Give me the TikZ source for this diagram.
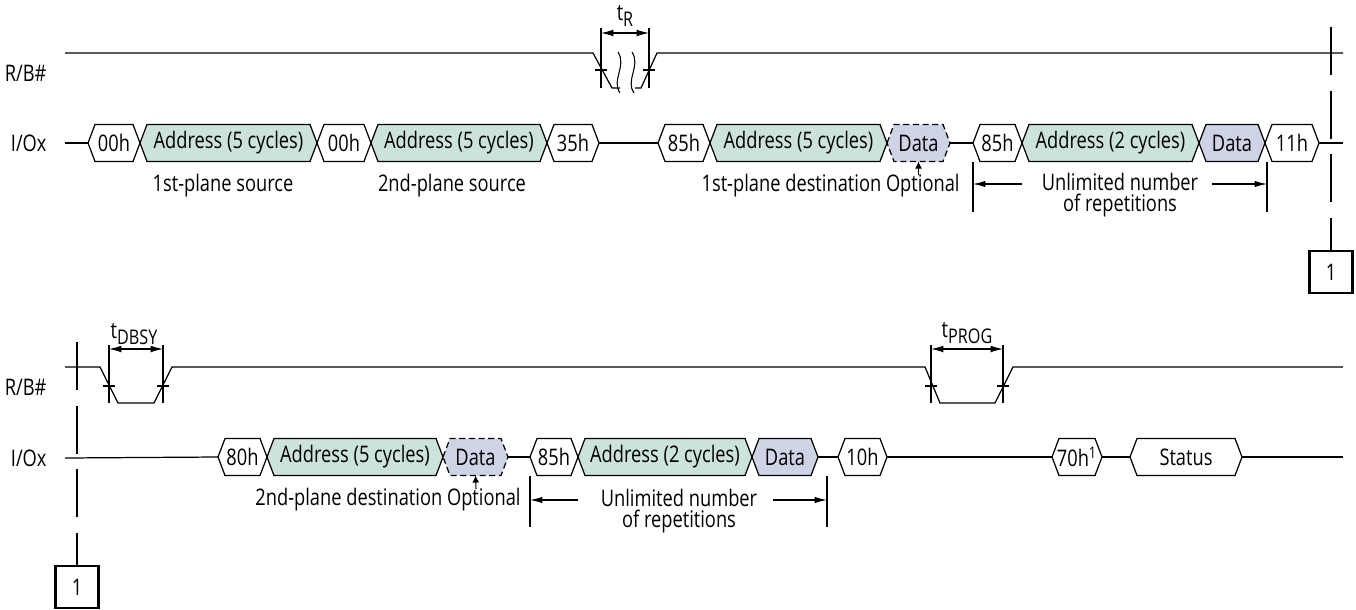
\documentclass[tikz,border=0pt]{standalone}
\usepackage{fontspec}
\setmainfont{Open Sans}[FakeStretch=0.8]
\usetikzlibrary{arrows.meta}
\definecolor{addrfill}{RGB}{204,226,220}
\definecolor{datafill}{RGB}{207,211,230}
\newcommand{\hexcell}[6]{%
	\draw[#5] (#2,#4) -- (#2+7,#4-18.5) -- (#3-7,#4-18.5) -- (#3,#4) -- (#3-7,#4+18.5) -- (#2+7,#4+18.5) -- cycle;
	\coordinate (#1-w) at (#2,#4);
	\coordinate (#1-e) at (#3,#4);
	\coordinate (#1-s) at ({(#2+#3)/2},#4+18.5);
	\node[inner sep=0pt] (#1) at ({(#2+#3)/2},#4) {#6};
}
\newcommand{\lowsub}[1]{\raisebox{-0.45ex}{\fontsize{11.5}{12}\selectfont #1}}
\begin{document}
\begin{tikzpicture}[x=0.02cm, y=-0.02cm, line width=0.7pt,
	font=\fontsize{13}{14}\selectfont,
	hexw/.style={draw, fill=white},
	hexa/.style={draw, fill=addrfill},
	hexd/.style={draw, fill=datafill},
	hexo/.style={draw, fill=datafill, dash pattern=on 3.5pt off 2pt},
	dimline/.style={line width=0.6pt},
	dimarrow/.style={{Latex[length=7pt,width=3.8pt]}-{Latex[length=7pt,width=3.8pt]}, line width=0.6pt},
	reparrow/.style={-{Latex[length=7pt,width=3.6pt]}, line width=0.6pt},
	optarrow/.style={-{Latex[length=4pt,width=4pt]}, line width=0.6pt},
	reptext/.style={align=center, font=\fontsize{13}{12}\selectfont},
	cutline/.style={dash pattern=on 27.2pt off 9.07pt},
	markbox/.style={draw, line width=1.3pt, minimum width=0.86cm, minimum height=0.84cm, inner sep=0pt}]
	\useasboundingbox (0,0) rectangle (1356,609);

	\node[anchor=east] (rbA) at (53,73) {R/B\#};
	\node[anchor=east] (ioA) at (53,143) {I/Ox};
	\draw (65,53) -- (593,53) -- (612,88) -- (620,88);
	\draw (635,88) -- (641,88) -- (657,53) -- (1343,53);
	\draw[dimline] (618,52) .. controls (627,66) and (611,80) .. (620,93);
	\draw[dimline] (632,52) .. controls (641,66) and (625,80) .. (634,93);
	\draw[dimline] (601,28) -- (601,88) (649,28) -- (649,88);
	\draw[dimline] (595,70) -- (607,70) (643,70) -- (655,70);
	\coordinate (tRa) at (601,33);
	\coordinate (tRb) at (649,33);
	\draw[dimarrow] (tRa) -- (tRb);
	\node (tR) at (625,16) {t\lowsub{R}};

	\hexcell{c00a}{88}{140}{143}{hexw}{00h}
	\hexcell{caA}{140}{317}{143}{hexa}{Address (5 cycles)}
	\hexcell{c00b}{317}{371}{143}{hexw}{00h}
	\hexcell{caB}{371}{547}{143}{hexa}{Address (5 cycles)}
	\hexcell{c35}{547}{599}{143}{hexw}{35h}
	\hexcell{c85a}{658}{710}{143}{hexw}{85h}
	\hexcell{caC}{710}{887}{143}{hexa}{Address (5 cycles)}
	\hexcell{cdA}{887}{950}{143}{hexo}{Data}
	\hexcell{c85b}{973}{1022}{143}{hexw}{85h}
	\hexcell{caD}{1022}{1199}{143}{hexa}{Address (2 cycles)}
	\hexcell{cdB}{1199}{1265}{143}{hexd}{Data}
	\hexcell{c11}{1265}{1319}{143}{hexw}{11h}
	\coordinate (ioA-end) at (1343,143);
	\draw ([xshift=0.24cm]ioA.east) -- (c00a-w);
	\draw (c35-e) -- (c85a-w) (cdA-e) -- (c85b-w) (c11-e) -- (ioA-end);

	\node (srcA) at (223,186) {1st-plane source};
	\node (srcB) at (452,186) {2nd-plane source};
	\node[anchor=east] (dstA) at (966,186) {1st-plane destination Optional};
	\coordinate (optA) at (918.5,175);
	\draw[optarrow] (optA) -- (cdA-s);
	\draw[dimline] (973,162) -- (973,212) (1267,162) -- (1267,212);
	\node[reptext] (repA) at (1120,195) {Unlimited number\\of repetitions};
	\coordinate (repA-l) at (973,184);
	\coordinate (repA-r) at (1267,184);
	\draw[reparrow] (1022,184) -- (repA-l);
	\draw[reparrow] (1212,184) -- (repA-r);

	\node[markbox] (mkA) at (1331,272) {1};
	\coordinate (cutA) at (1331,27);
	\draw[cutline] (cutA) -- (mkA.north);

	\node[anchor=east] (rbB) at (53,387) {R/B\#};
	\node[anchor=east] (ioB) at (53,458) {I/Ox};
	\draw (65,367) -- (100,367) -- (118,403) -- (154,403) -- (172,367) -- (925,367) -- (940,403) -- (995,403) -- (1013,367) -- (1343,367);
	\draw[dimline] (103,386) -- (115,386) (157,386) -- (169,386) (925,386) -- (937,386) (997,386) -- (1009,386);
	\draw[dimline] (109,345) -- (109,403) (163,345) -- (163,403) (931,345) -- (931,403) (1003,345) -- (1003,403);
	\coordinate (tDa) at (109,349);
	\coordinate (tDb) at (163,349);
	\coordinate (tPa) at (931,349);
	\coordinate (tPb) at (1003,349);
	\draw[dimarrow] (tDa) -- (tDb);
	\draw[dimarrow] (tPa) -- (tPb);
	\node (tDBSY) at (134,334) {t\lowsub{DBSY}};
	\node (tPROG) at (967,333) {t\lowsub{PROG}};

	\hexcell{c80}{218}{267}{457}{hexw}{80h}
	\hexcell{caE}{267}{443}{457}{hexa}{Address (5 cycles)}
	\hexcell{cdC}{443}{508}{457}{hexo}{Data}
	\hexcell{c85c}{530}{578}{457}{hexw}{85h}
	\hexcell{caF}{578}{752}{457}{hexa}{Address (2 cycles)}
	\hexcell{cdD}{752}{818}{457}{hexd}{Data}
	\hexcell{c10}{838}{887}{457}{hexw}{10h}
	\hexcell{c70}{1052}{1102}{457}{hexw}{70h\textsuperscript{1}}
	\hexcell{cst}{1130}{1242}{457}{hexw}{Status}
	\coordinate (ioB-end) at (1343,457);
	\draw ([xshift=0.24cm]ioB.east) -- (c80-w);
	\draw (cdC-e) -- (c85c-w) (cdD-e) -- (c10-w) (c10-e) -- (c70-w) (c70-e) -- (cst-w) (cst-e) -- (ioB-end);

	\node[anchor=east] (dstB) at (527,500) {2nd-plane destination Optional};
	\coordinate (optB) at (476,489);
	\draw[optarrow] (optB) -- (cdC-s);
	\draw[dimline] (530,476) -- (530,527) (827,476) -- (827,527);
	\node[reptext] (repB) at (679,511) {Unlimited number\\of repetitions};
	\coordinate (repB-l) at (530,500);
	\coordinate (repB-r) at (827,500);
	\draw[reparrow] (578,500) -- (repB-l);
	\draw[reparrow] (773,500) -- (repB-r);

	\node[markbox] (mkB) at (77,587) {1};
	\coordinate (cutB) at (77,342);
	\draw[cutline] (cutB) -- (mkB.north);
\end{tikzpicture}
\end{document}
